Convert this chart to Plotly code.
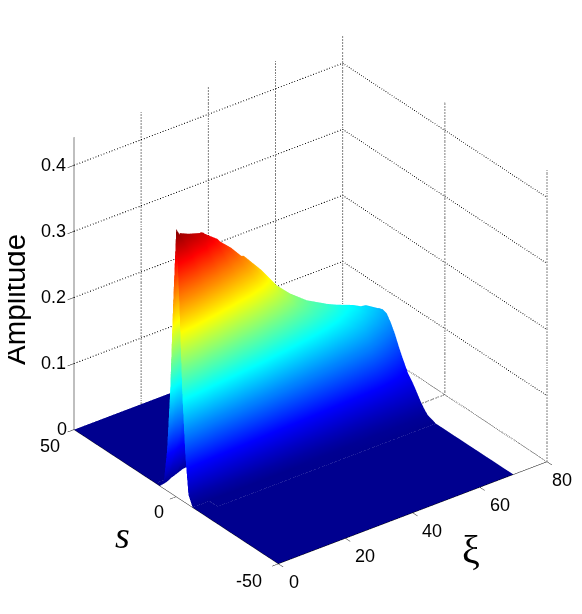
import numpy as np
import plotly.graph_objects as go

# values
s_vals = [-50, -12, -8, -6, -4.5, -3, -1.5, 0, 1.5, 3, 4.5, 6, 8, 10, 12, 14, 16, 18, 20, 22, 25, 28, 32, 36, 40, 50]
xi_vals = [0, 2, 5, 10, 15, 20, 25, 30, 35, 40, 45, 50, 55, 60, 65, 70]

amp_xi0 = [0, 0, 0, .015, .07, .16, .30, .405, .29, .15, .06, .012] + [0] * 14
amp_xi2 = [0, 0, 0, .013, .06, .14, .27, .385, .392, .30, .12, .03, .002] + [0] * 13
amp_xi5 = [0, 0, 0, .012, .05, .12, .24, .35, .385, .382, .27, .08, .01] + [0] * 13
amp_xi10 = [0, 0, .001, .012, .04, .09, .17, .27, .355, .374, .372, .30, .06, .01] + [0] * 12
amp_xi15 = [0, 0, .001, .01, .035, .075, .14, .21, .285, .34, .352, .35, .22, .04, .006] + [0] * 11
amp_xi20 = [0, 0, .001, .01, .03, .065, .115, .17, .23, .285, .318, .326, .31, .15, .025, .005] + [0] * 10
amp_xi25 = [0, 0, .001, .01, .028, .058, .1, .148, .198, .245, .28, .296, .3, .25, .07, .015, .003] + [0] * 9
amp_xi30 = [0, 0, .001, .01, .025, .05, .085, .125, .165, .205, .24, .26, .27, .255, .12, .03, .006] + [0] * 9
amp_xi35 = [0, 0, .002, .01, .023, .046, .076, .108, .144, .178, .205, .225, .235, .235, .16, .05, .012, .002] + [0] * 8
amp_xi40 = [0, 0, .002, .01, .022, .042, .068, .095, .125, .155, .18, .197, .207, .21, .18, .08, .03, .01, .003] + [0] * 7
amp_xi45 = [0, 0, .002, .01, .021, .039, .062, .086, .112, .138, .16, .176, .187, .19, .18, .11, .05, .02, .006, .001] + [0] * 6
amp_xi50 = [0, 0, .003, .01, .02, .036, .056, .078, .1, .122, .142, .158, .172, .176, .172, .135, .08, .04, .016, .005, .001] + [0] * 5
amp_xi55 = [0, 0, .003, .01, .02, .034, .052, .071, .09, .11, .127, .141, .153, .161, .16, .14, .1, .06, .032, .015, .003] + [0] * 5
amp_xi60 = [0, 0, .004, .011, .02, .032, .048, .064, .08, .097, .112, .124, .137, .147, .15, .14, .11, .08, .05, .028, .01, .002] + [0] * 4
amp_xi65 = [0, 0, .004, .011, .02, .03, .041, .053, .064, .077, .09, .102, .117, .128, .136, .136, .12, .098, .072, .048, .022, .008, .001] + [0] * 3
amp_xi70 = [0, 0, .005, .012, .019, .027, .035, .042, .048, .058, .068, .079, .095, .108, .118, .12, .118, .106, .09, .07, .04, .02, .006, .001] + [0] * 2

xi_ticks = [0, 20, 40, 60, 80]
s_ticks = [-50, 0, 50]
z_ticks = [0, 0.1, 0.2, 0.3, 0.4]
z_labels = ["0", "0.1", "0.2", "0.3", "0.4"]
xi_max = 80
s_min, s_max = -50, 50
z_top = 0.4425

amp = np.array([amp_xi0, amp_xi2, amp_xi5, amp_xi10, amp_xi15, amp_xi20, amp_xi25, amp_xi30,
                amp_xi35, amp_xi40, amp_xi45, amp_xi50, amp_xi55, amp_xi60, amp_xi65, amp_xi70]).T

jet = [[0, "#00008f"], [0.125, "#0000ff"], [0.375, "#00ffff"], [0.625, "#ffff00"], [0.875, "#ff0000"], [1, "#800000"]]

fig = go.Figure()

fig.add_trace(go.Surface(
    x=xi_vals, y=s_vals, z=amp,
    colorscale=jet, cmin=0, cmax=0.405, showscale=False,
    lighting=dict(ambient=1, diffuse=0, specular=0, fresnel=0, roughness=1),
    hoverinfo="skip",
))

# dotted grid on the two back walls and the floor edge
def dotted(xs, ys, zs):
    fig.add_trace(go.Scatter3d(
        x=xs, y=ys, z=zs, mode="lines",
        line=dict(color="black", width=2, dash="dot"),
        hoverinfo="skip", showlegend=False,
    ))

for t in z_ticks[1:]:
    dotted([0, xi_max, xi_max], [s_max, s_max, s_min], [t, t, t])
for t in xi_ticks[1:]:
    dotted([t, t], [s_max, s_max], [0, z_top])
for t in s_ticks[:-1]:
    dotted([xi_max, xi_max], [t, t], [0, z_top])
dotted([xi_max, xi_max], [s_min, s_max], [0, 0])
dotted([xi_vals[-1], xi_max], [s_max, s_max], [0, 0])
dotted([xi_vals[-1], xi_max], [0, 0], [0, 0])

axis_style = dict(
    showgrid=False, zeroline=False, showbackground=False, showspikes=False,
    showline=True, linecolor="black", linewidth=1,
    ticks="outside", ticklen=8, tickwidth=1, tickcolor="black", showticklabels=True, title="",
)

tick_font = dict(family="Liberation Sans", size=18, color="black")

# tick labels hung on the data points so they sit where the original has them
def tick_label(x, y, z, text, dx, dy):
    return dict(x=x, y=y, z=z, text=text, showarrow=False, xshift=dx, yshift=-dy, font=tick_font)

labels = []
for t, lab in zip(z_ticks, z_labels):
    labels.append(tick_label(0, s_max, t, lab, -12 if t == 0 else -20, 0))
for t, dx, dy in zip(s_ticks, [-29, -17, -24], [17, 16, 17]):
    labels.append(tick_label(0, t, 0, str(t), dx, dy))
for t, dx in zip(xi_ticks, [16, 20, 19, 20, 15]):
    labels.append(tick_label(t, s_min, 0, str(t), dx, 18))

fig.update_layout(
    width=582, height=614,
    margin=dict(l=0, r=0, t=0, b=0),
    paper_bgcolor="white",
    showlegend=False,
    scene=dict(
        domain=dict(x=[0.039, 1], y=[0.051, 1]),
        xaxis=dict(range=[0, xi_max], tickvals=xi_ticks, ticktext=[" "] * len(xi_ticks), **axis_style),
        yaxis=dict(range=[s_min, s_max], tickvals=s_ticks, ticktext=[" "] * len(s_ticks), **axis_style),
        zaxis=dict(range=[0, z_top], tickvals=z_ticks, ticktext=[" "] * len(z_ticks), **axis_style),
        aspectmode="manual",
        aspectratio=dict(x=1.158, y=1.158, z=1.158),
        camera=dict(
            projection=dict(type="orthographic"),
            eye=dict(x=-0.924, y=-1.215, z=0.88),
            center=dict(x=0, y=0, z=0),
        ),
        annotations=labels,
    ),
    annotations=[
        dict(text="Amplitude", xref="paper", yref="paper", x=6 / 582, y=1 - 292 / 614, textangle=-90,
             xanchor="center", yanchor="middle", showarrow=False,
             font=dict(family="Liberation Sans", size=29.5, color="black")),
        dict(text="<i>s</i>", xref="paper", yref="paper", x=114 / 582, y=1 - 527 / 614,
             xanchor="center", yanchor="middle", showarrow=False,
             font=dict(family="Liberation Serif", size=38, color="black")),
        dict(text="ξ", xref="paper", yref="paper", x=463 / 582, y=1 - 541 / 614,
             xanchor="center", yanchor="middle", showarrow=False,
             font=dict(family="Liberation Serif", size=40, color="black")),
    ],
)

fig.write_html("out.html")
